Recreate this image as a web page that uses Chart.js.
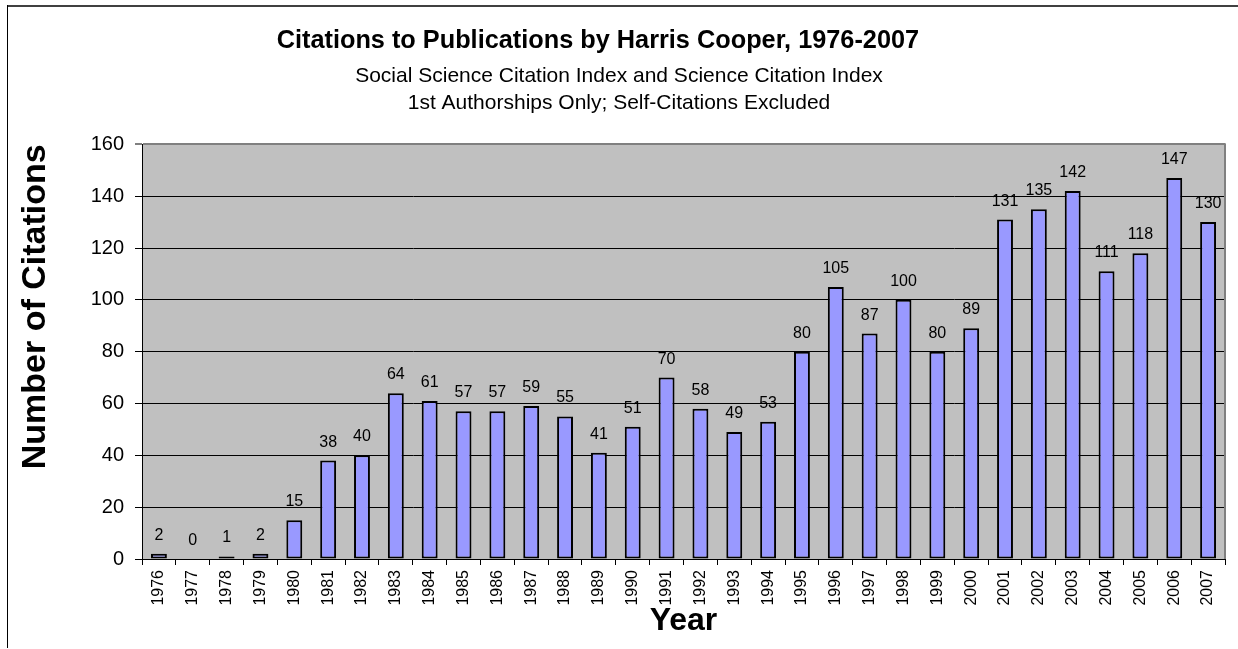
<!DOCTYPE html>
<html><head><meta charset="utf-8">
<script src="https://cdn.jsdelivr.net/npm/chart.js@4.4.0/dist/chart.umd.min.js"></script>
<style>html,body{margin:0;padding:0;background:#fff;} canvas{display:block;}</style>
</head><body>
<canvas id="c" width="1238" height="649"></canvas>
<script>
const years = ['1976','1977','1978','1979','1980','1981','1982','1983','1984','1985','1986','1987','1988','1989','1990','1991','1992','1993','1994','1995','1996','1997','1998','1999','2000','2001','2002','2003','2004','2005','2006','2007'];
const citations = [2,0,1,2,15,38,40,64,61,57,57,59,55,41,51,70,58,49,53,80,105,87,100,80,89,131,135,142,111,118,147,130];
const chartTitle = 'Citations to Publications by Harris Cooper, 1976-2007';
const chartSubtitle = ['Social Science Citation Index and Science Citation Index', '1st Authorships Only; Self-Citations Excluded'];
const yAxisTitle = 'Number of Citations';
const xAxisTitle = 'Year';
const yMin = 0, yMax = 160, yStep = 20;

const FONT = "'Liberation Sans', Arial, sans-serif";

const framePlugin = {
  id: 'frame',
  beforeDraw(chart) {
    const {ctx, chartArea: a} = chart;
    ctx.save();
    ctx.fillStyle = '#fff'; ctx.fillRect(0, 0, chart.width, chart.height);
    ctx.fillStyle = '#404040'; ctx.fillRect(7, 5, chart.width - 7, 2);
    ctx.fillStyle = '#000'; ctx.fillRect(7, 5, 1, 643);
    ctx.fillStyle = '#c0c0c0'; ctx.fillRect(a.left, a.top, a.right - a.left, a.bottom - a.top);
    ctx.restore();
  },
  afterDatasetsDraw(chart) {
    const {ctx, chartArea: a} = chart;
    ctx.save();
    ctx.fillStyle = '#808080';
    ctx.fillRect(a.right - 1, a.top - 1, 2, a.bottom - a.top + 1);
    const meta = chart.getDatasetMeta(0);
    const vals = chart.data.datasets[0].data;
    ctx.fillStyle = '#000';
    ctx.font = '16px ' + FONT;
    ctx.textAlign = 'center';
    ctx.textBaseline = 'alphabetic';
    meta.data.forEach((bar, i) => { ctx.fillText(String(vals[i]), bar.x, bar.y - 14); });
    ctx.restore();
  }
};

new Chart(document.getElementById('c'), {
  type: 'bar',
  data: {
    labels: years,
    datasets: [{
      data: citations,
      backgroundColor: '#9999ff',
      borderColor: '#000',
      borderWidth: 2,
      borderSkipped: false,
      barPercentage: 0.47,
      categoryPercentage: 1
    }]
  },
  options: {
    responsive: false,
    animation: false,
    devicePixelRatio: 1,
    layout: { padding: { left: 13, right: 13, top: 0, bottom: 0 } },
    plugins: {
      legend: { display: false },
      tooltip: { enabled: false },
      title: {
        display: true,
        text: chartTitle + '\u00a0'.repeat(6),
        color: '#000',
        font: { family: FONT, size: 25.3, weight: 'bold', lineHeight: 1.2 },
        padding: { top: 26, bottom: 0 }
      },
      subtitle: {
        display: true,
        text: chartSubtitle,
        color: '#000',
        font: { family: FONT, size: 21, weight: 'normal', lineHeight: 27 / 21 },
        padding: { top: 6, bottom: 28 }
      }
    },
    scales: {
      x: {
        grid: { display: true, drawOnChartArea: false, drawTicks: true, tickLength: 6, color: '#000', offset: true },
        border: { display: true, color: '#000', width: 1 },
        ticks: { autoSkip: false, maxRotation: 90, minRotation: 90, padding: 5, color: '#000', font: { family: FONT, size: 16 } },
        afterFit(s) { s.height = 90; },
        title: { display: true, text: xAxisTitle, color: '#000', font: { family: FONT, size: 32, weight: 'bold' }, padding: { top: 0, bottom: 9 } }
      },
      y: {
        min: yMin, max: yMax,
        grid: {
          color: c => (c.tick && c.tick.value === yMax) ? '#808080' : '#000',
          lineWidth: c => (c.tick && c.tick.value === yMax) ? 2 : 1,
          tickLength: 7, drawTicks: true
        },
        border: { display: true, color: '#000', width: 1 },
        ticks: { stepSize: yStep, padding: 11, color: '#000', font: { family: FONT, size: 20 } },
        afterFit(s) { s.width = 129; },
        title: { display: true, text: yAxisTitle, align: 'end', color: '#000', font: { family: FONT, size: 34, weight: 'bold' }, padding: { top: 2, bottom: 0 } }
      }
    }
  },
  plugins: [framePlugin]
});
</script>
</body></html>
